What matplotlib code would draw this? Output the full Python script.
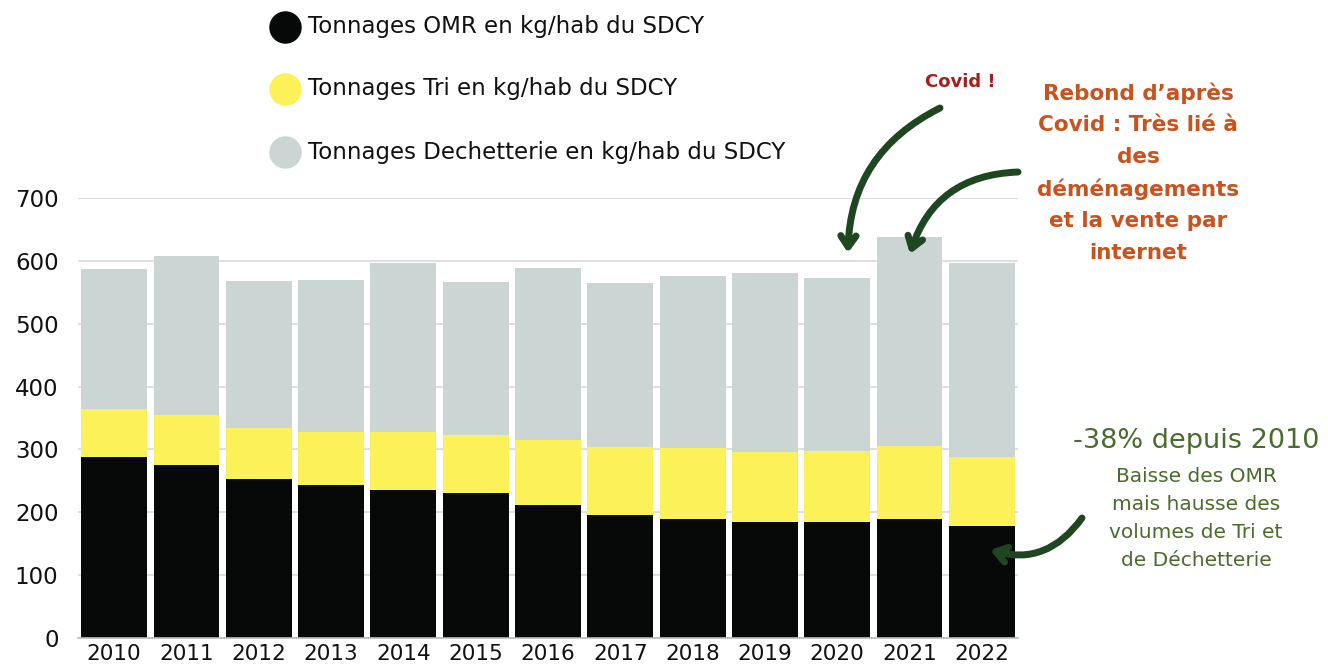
import matplotlib
matplotlib.use("Agg")
import matplotlib.pyplot as plt
import numpy as np

# ============================================================
# Data (kg/hab)
# ============================================================

years = ["2010", "2011", "2012", "2013", "2014", "2015", "2016",
         "2017", "2018", "2019", "2020", "2021", "2022"]
omr = [288, 275, 253, 244, 236, 231, 212, 195, 190, 184, 185, 190, 178]
tri = [76, 80, 81, 84, 92, 92, 103, 109, 112, 112, 112, 115, 110]
decheterie = [223, 253, 234, 241, 268, 243, 273, 260, 274, 284, 276, 333, 309]

labels = ["Tonnages OMR en kg/hab du SDCY",
          "Tonnages Tri en kg/hab du SDCY",
          "Tonnages Dechetterie en kg/hab du SDCY"]
colors = ["#060907", "#fdf15a", "#cbd5d3"]

yticks = [0, 100, 200, 300, 400, 500, 600, 700]

W, H = 1328, 668
fig = plt.figure(figsize=(W / 100, H / 100), dpi=100)
plt.rcParams["font.family"] = ["DejaVu Sans"]

# ============================================================
# Stacked bars
# ============================================================

ax = fig.add_axes([78 / W, 1 - 638 / H, (1018 - 78) / W, (638 - 198) / H])
x = np.arange(len(years))
bottom = np.zeros(len(years))
for vals, col in zip([omr, tri, decheterie], colors):
    ax.bar(x, vals, bottom=bottom, width=0.91, color=col, zorder=2)
    bottom += np.array(vals)

ax.set_xlim(-0.5, len(years) - 0.5)
ax.set_ylim(0, 700)
ax.set_yticks(yticks)
ax.set_xticks(x)
ax.set_xticklabels(years)
ax.tick_params(axis="both", length=0, colors="#111111")
ax.tick_params(axis="y", pad=14, labelsize=16.5)
ax.tick_params(axis="x", pad=4, labelsize=15.5)
ax.grid(axis="y", color="#d6d6d6", linewidth=1.1, zorder=0)
for s in ["top", "right", "left"]:
    ax.spines[s].set_visible(False)
ax.spines["bottom"].set_color("#bdbdbd")
ax.spines["bottom"].set_linewidth(1.2)

# ============================================================
# Overlay in pixel coords for legend + annotations
# ============================================================

ov = fig.add_axes([0, 0, 1, 1], facecolor="none")
ov.set_xlim(0, W)
ov.set_ylim(H, 0)
ov.axis("off")

leg_y = [27, 89, 152]
for yy, lab, col in zip(leg_y, labels, colors):
    ov.scatter([285], [yy], s=500, color=col, zorder=3)
    ov.text(308, yy, lab, fontsize=16.5, va="center", ha="left", color="#111111")

ov.text(960, 82, "Covid !", fontsize=13, fontweight="bold", color="#a81c1c",
        ha="center", va="center")

rebond = ["Rebond d\u2019apr\u00e8s", "Covid : Tr\u00e8s li\u00e9 \u00e0", "des",
          "d\u00e9m\u00e9nagements", "et la vente par", "internet"]
for i, line in enumerate(rebond):
    ov.text(1138, 93 + i * 32, line, fontsize=15.5, fontweight="bold",
            color="#c9531f", ha="center", va="center")

ov.text(1196, 441, "-38% depuis 2010", fontsize=19.5, color="#4a6b2e",
        ha="center", va="center")
baisse = ["Baisse des OMR", "mais hausse des", "volumes de Tri et", "de D\u00e9chetterie"]
for i, line in enumerate(baisse):
    ov.text(1196, 476 + i * 28, line, fontsize=14.5, color="#4a6b2e",
            ha="center", va="center")

arrow_kw = dict(arrowstyle="->,head_length=0.8,head_width=0.55", color="#1e4620",
                lw=5, shrinkA=0, shrinkB=0, capstyle="round", joinstyle="round")
ov.annotate("", xy=(848, 253), xytext=(940, 108),
            arrowprops=dict(connectionstyle="arc3,rad=0.3", **arrow_kw))
ov.annotate("", xy=(910, 254), xytext=(1018, 172),
            arrowprops=dict(connectionstyle="arc3,rad=0.35", **arrow_kw))
ov.annotate("", xy=(990, 550), xytext=(1082, 518),
            arrowprops=dict(connectionstyle="arc3,rad=-0.35", **arrow_kw))

fig.savefig("out.png", dpi=100)
